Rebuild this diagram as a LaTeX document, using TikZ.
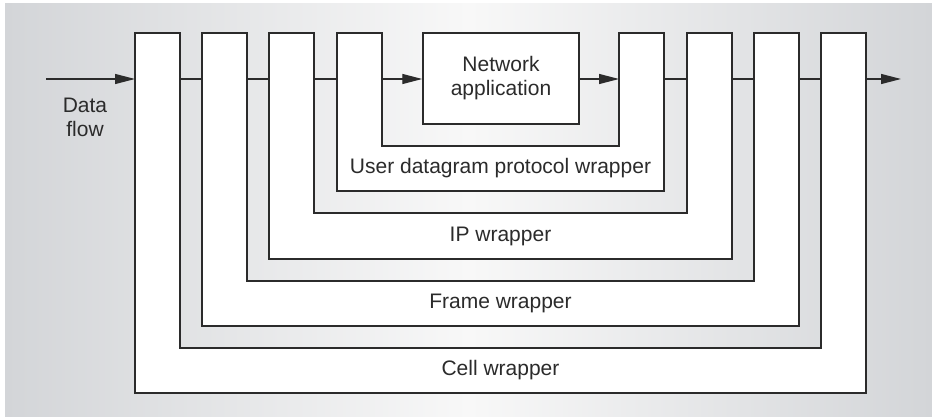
\documentclass[tikz,border=0pt]{standalone}
\usepackage{fontspec}
\setmainfont{Liberation Sans}
\usepackage{xcolor}
\usetikzlibrary{arrows.meta,positioning}
\definecolor{ink}{HTML}{2B2B2B}
\definecolor{bgside}{HTML}{D3D5D8}
\definecolor{bgmid}{HTML}{F8F8F8}

\begin{document}
\begin{tikzpicture}[
  x=0.5pt, y=-0.5pt,
  >={Triangle[length=10pt,width=5pt]},
  font=\fontsize{10.5}{12}\selectfont,
  wrap/.style={draw=ink, fill=white, line width=0.75pt, line join=miter},
  lbl/.style={text=ink, align=center, inner sep=0pt},
  flow/.style={draw=ink, line width=0.6pt},
]
\useasboundingbox (0,0) rectangle (932,417);

% ---------- background ----------
\shade[left color=bgside, right color=bgside, middle color=bgmid] (5,4) rectangle (932,417);

% ---------- nested wrappers (outer left, inner left, inner right, outer right, inner bottom, outer bottom)
\def\top{33}
\def\fy{79}
\foreach \L/\l/\r/\R/\b/\B/\nm/\txt in {
    135/180/821/866/348/393/cell/Cell wrapper,
    202/247/754/799/281/326/frame/Frame wrapper,
    269/314/687/732/213/259/ip/IP wrapper,
    337/382/619/664/146/191/udp/User datagram protocol wrapper} {
  \draw[wrap] (\L,\top) -- (\l,\top) -- (\l,\b) -- (\r,\b) -- (\r,\top)
    -- (\R,\top) -- (\R,\B) -- (\L,\B) -- cycle;
  \node[lbl] (\nm-lbl) at ({(\L+\R)/2},{(\b+\B)/2}) {\txt};
  \coordinate (\nm-lo) at (\L,\fy);
  \coordinate (\nm-li) at (\l,\fy);
  \coordinate (\nm-ri) at (\r,\fy);
  \coordinate (\nm-ro) at (\R,\fy);
}

% ---------- application ----------
\node[wrap, lbl, minimum width=78pt, minimum height=45.5pt] (app) at (501,78.5)
  {Network\\application};

% ---------- data flow ----------
\coordinate (in) at (46,\fy);
\coordinate (out) at (901,\fy);
\node[lbl] (dflow) at (85,117) {Data\\flow};

\draw[flow, ->] (in) -- (cell-lo);
\draw[flow] (cell-li) -- (frame-lo);
\draw[flow] (frame-li) -- (ip-lo);
\draw[flow] (ip-li) -- (udp-lo);
\draw[flow, ->] (udp-li) -- (app.west |- udp-li);
\draw[flow, ->] (app.east |- udp-ri) -- (udp-ri);
\draw[flow] (udp-ro) -- (ip-ri);
\draw[flow] (ip-ro) -- (frame-ri);
\draw[flow] (frame-ro) -- (cell-ri);
\draw[flow, ->] (cell-ro) -- (out);

\end{tikzpicture}
\end{document}
